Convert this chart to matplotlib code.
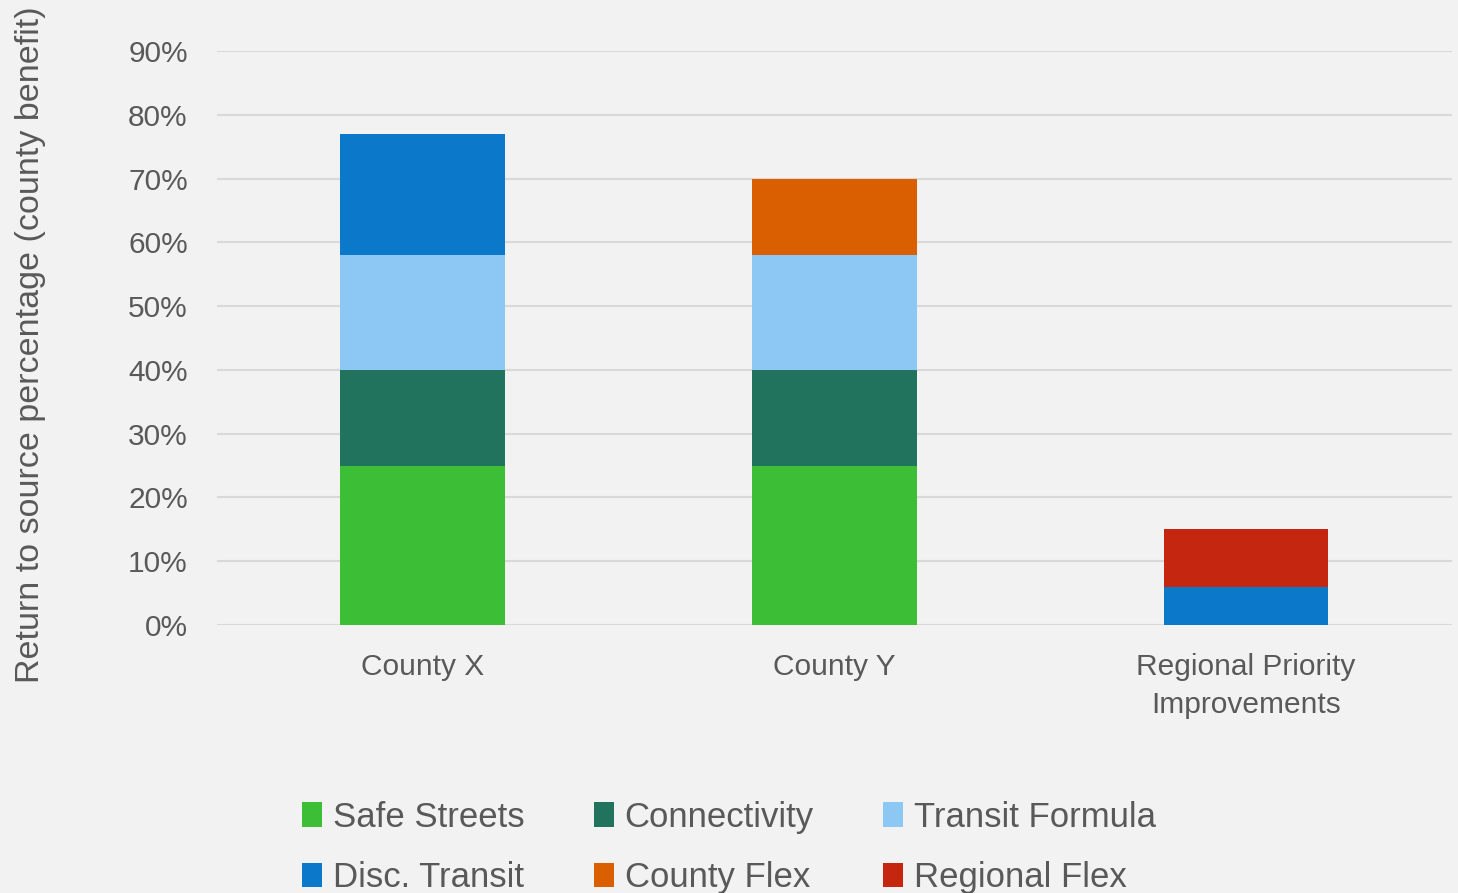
import numpy as np
import matplotlib.pyplot as plt

categories = ["County X", "County Y", "Regional Priority\nImprovements"]
safe_streets = [25, 25, 0]
connectivity = [15, 15, 0]
transit_formula = [18, 18, 0]
disc_transit = [19, 0, 6]
county_flex = [0, 12, 0]
regional_flex = [0, 0, 9]

series = [
    ("Safe Streets", safe_streets, "#3CBF37"),
    ("Connectivity", connectivity, "#22735E"),
    ("Transit Formula", transit_formula, "#8DC8F5"),
    ("Disc. Transit", disc_transit, "#0C78CA"),
    ("County Flex", county_flex, "#D95F00"),
    ("Regional Flex", regional_flex, "#C4260F"),
]

bg = "#F2F2F2"
txt = "#595959"
fam = ["Liberation Sans", "DejaVu Sans"]

fig = plt.figure(figsize=(14.58, 8.93), dpi=100, facecolor=bg)
ax = fig.add_axes([0.1488, 0.3001, 0.847, 0.6428], facecolor=bg)

x = np.arange(len(categories))
bottom = np.zeros(len(categories))
handles = []
for name, vals, col in series:
    vals = np.array(vals, dtype=float)
    b = ax.bar(x, vals, 0.40, bottom=bottom, color=col, label=name, zorder=3)
    handles.append(b)
    bottom += vals

ax.set_xlim(-0.5, 2.5)
ax.set_ylim(0, 90)
ax.set_yticks(range(0, 91, 10))
ax.set_yticklabels([f"{v}%" for v in range(0, 91, 10)], family=fam, fontsize=21.5)
ax.yaxis.grid(True, color="#D9D9D9", linewidth=1.5, zorder=0)
for s in ax.spines.values():
    s.set_visible(False)
ax.tick_params(axis="both", length=0, colors=txt)
ax.tick_params(axis="y", pad=21)
ax.tick_params(axis="x", pad=20)
ax.set_xticks(x)
ax.set_xticklabels(categories, family=fam, fontsize=21.5, linespacing=1.45)

fig.text(0.0206, 0.6137, "Return to source percentage (county benefit)", rotation=90,
         ha="center", va="center", fontsize=24.5, color=txt, family=fam)

# legend fills column by column, so reorder to get rows like the original
order = [0, 3, 1, 4, 2, 5]
leg = fig.legend(handles=[handles[i] for i in order], loc="upper left",
                 bbox_to_anchor=(0.186, 0.1385), ncol=3, frameon=False,
                 handlelength=0.56, handleheight=0.7, handletextpad=0.32,
                 columnspacing=2.0, labelspacing=0.8,
                 prop={"family": fam, "size": 25})
for t in leg.get_texts():
    t.set_color(txt)

fig.savefig("out.png", dpi=100, facecolor=bg)
